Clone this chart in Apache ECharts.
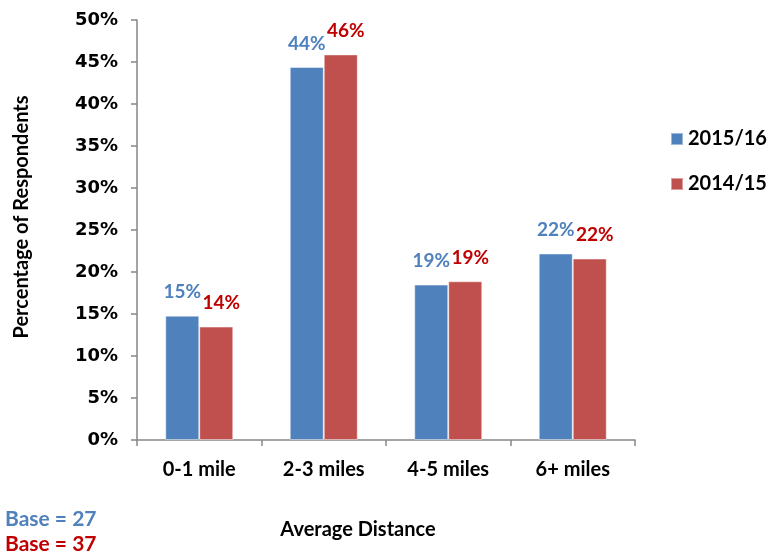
<!DOCTYPE html>
<html>
<head>
<meta charset="utf-8">
<script src="https://cdn.jsdelivr.net/npm/echarts@6/dist/echarts.min.js"></script>
<style>
  html, body { margin: 0; padding: 0; background: #ffffff; }
  #chart { width: 771px; height: 558px; }
</style>
</head>
<body>
<div id="chart"></div>
<script>
// Average travel distance of respondents, two survey years (percent of respondents)
const categories = ['0-1 mile', '2-3 miles', '4-5 miles', '6+ miles'];
const seriesNames = ['2015/16', '2014/15'];
const values201516 = [14.8, 44.4, 18.5, 22.2];
const values201415 = [13.5, 45.9, 18.9, 21.6];
const yTicks = { min: 0, max: 50, interval: 5 };
const baseNotes = ['Base = 27', 'Base = 37'];

const FONT = 'Lato, "Noto Sans", sans-serif';
const BLUE = '#4F81BD';
const RED = '#C0504D';
const BLUE_TEXT = '#4F81BD';
const RED_TEXT = '#C00000';
const AXIS = '#868686';

const chart = echarts.init(document.getElementById('chart'), null, { renderer: 'canvas' });

const pctLabel = (color, offset) => ({
  show: true,
  position: 'top',
  distance: 14,
  offset: offset,
  formatter: p => Math.round(p.value) + '%',
  color: color,
  fontFamily: FONT,
  fontWeight: 'bold',
  fontSize: 19
});

chart.setOption({
  animation: false,
  backgroundColor: '#ffffff',
  grid: { left: 137, right: 136, top: 20, bottom: 118, containLabel: false },
  legend: {
    orient: 'vertical',
    left: 665,
    top: 124,
    itemWidth: 12,
    itemHeight: 12,
    itemGap: 25,
    icon: 'rect',
    data: seriesNames,
    textStyle: { fontFamily: FONT, fontWeight: 'bold', fontSize: 20, color: '#000', lineHeight: 20 }
  },
  xAxis: {
    type: 'category',
    data: categories,
    name: 'Average Distance',
    nameLocation: 'middle',
    nameGap: 80,
    nameTextStyle: { fontFamily: FONT, fontWeight: 'bold', fontSize: 20, color: '#000', padding: [0, 56, 0, 0] },
    axisLine: { lineStyle: { color: AXIS, width: 1.5 } },
    axisTick: { show: true, length: 6, lineStyle: { color: AXIS, width: 1.5 } },
    axisLabel: { margin: 20, fontFamily: FONT, fontWeight: 'bold', fontSize: 20, color: '#000' }
  },
  yAxis: {
    type: 'value',
    min: yTicks.min,
    max: yTicks.max,
    interval: yTicks.interval,
    name: 'Percentage of Respondents',
    nameLocation: 'middle',
    nameGap: 105,
    nameRotate: 90,
    nameTextStyle: { fontFamily: FONT, fontWeight: 'bold', fontSize: 20, color: '#000', padding: [0, 0, 0, 26] },
    axisLine: { show: true, lineStyle: { color: AXIS, width: 1.5 } },
    axisTick: { show: true, length: 6, lineStyle: { color: AXIS, width: 1.5 } },
    splitLine: { show: false },
    axisLabel: {
      margin: 19,
      formatter: '{value}%',
      fontFamily: '"DejaVu Sans", sans-serif',
      fontWeight: 'bold',
      fontSize: 18,
      color: '#000'
    }
  },
  series: [
    {
      name: seriesNames[0],
      type: 'bar',
      data: values201516,
      barWidth: 34,
      barGap: '0%',
      itemStyle: { color: BLUE, borderColor: 'rgba(255,255,255,0.45)', borderWidth: 1 },
      label: pctLabel(BLUE_TEXT, [0, 0])
    },
    {
      name: seriesNames[1],
      type: 'bar',
      data: values201415,
      barWidth: 34,
      barGap: '0%',
      itemStyle: { color: RED, borderColor: 'rgba(255,255,255,0.45)', borderWidth: 1 },
      label: pctLabel(RED_TEXT, [5, 0])
    }
  ],
  graphic: [
    {
      type: 'text', left: 5, top: 509,
      style: { text: baseNotes[0], fill: BLUE_TEXT, font: 'bold 21px ' + FONT }
    },
    {
      type: 'text', left: 5, top: 534,
      style: { text: baseNotes[1], fill: RED_TEXT, font: 'bold 21px ' + FONT }
    }
  ]
});
</script>
</body>
</html>
